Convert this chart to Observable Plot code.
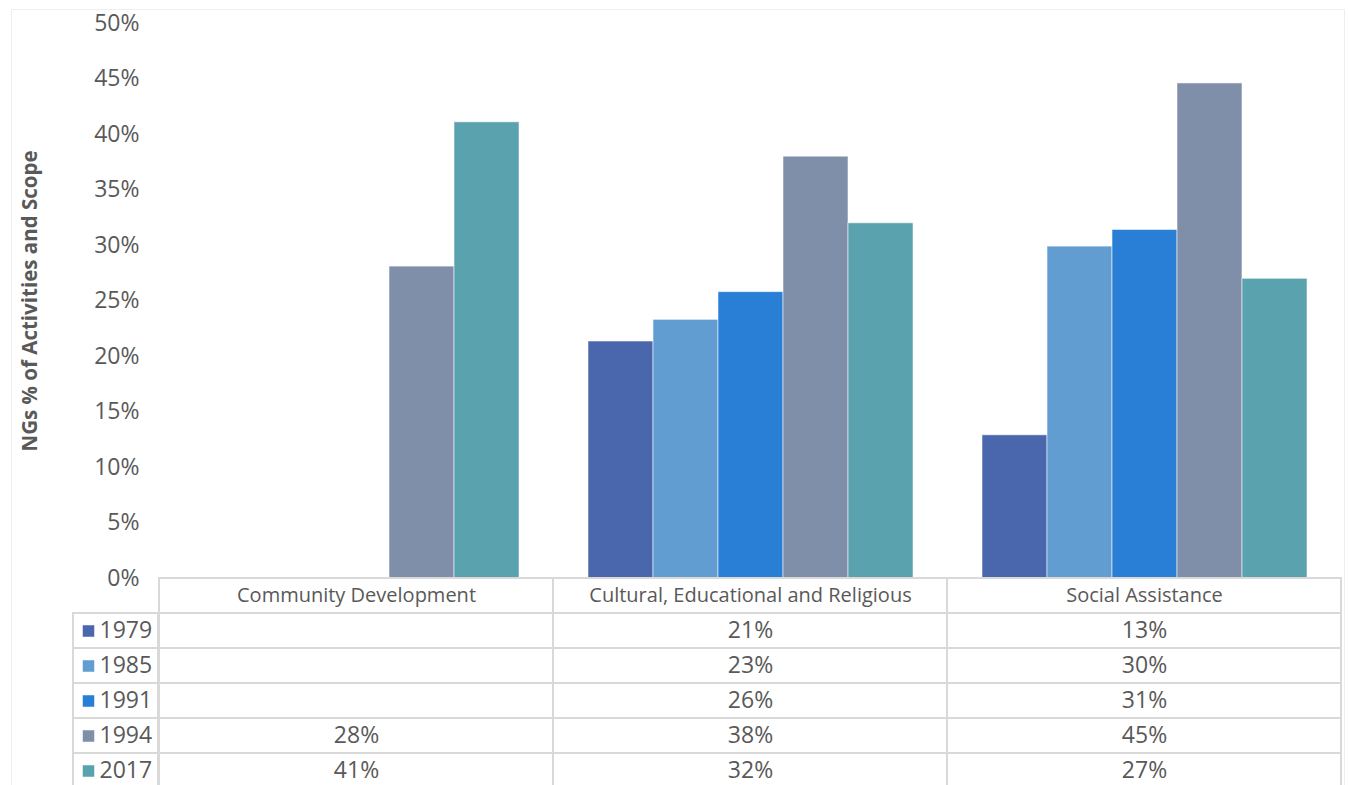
<!DOCTYPE html>
<html><head><meta charset="utf-8">
<script src="https://cdn.jsdelivr.net/npm/d3@7"></script>
<script src="https://cdn.jsdelivr.net/npm/@observablehq/plot@0.6"></script>
<style>
html,body{margin:0;padding:0;background:#fff;overflow:hidden}
#chart{position:relative;width:1348px;height:785px;overflow:hidden;font-family:"Open Sans",sans-serif;background:#fff}
#frame{position:absolute;left:11px;top:9px;width:1332px;height:820px;border:1px solid #eeeeee}
.layer{position:absolute}
.layer svg{overflow:visible}
g[aria-label="y-axis label"]{font-weight:bold;font-size:20.5px}
</style></head><body><div id="chart"><div id="frame"></div></div>
<script>
const categories = ["Community Development", "Cultural, Educational and Religious", "Social Assistance"];
const years = ["1979", "1985", "1991", "1994", "2017"];
const colors = ["#4A66AC", "#629DD1", "#297FD5", "#7F8FA9", "#5AA2AE"];
const v1979 = [null, 0.2135, 0.129];
const v1985 = [null, 0.233, 0.299];
const v1991 = [null, 0.258, 0.314];
const v1994 = [0.281, 0.380, 0.446];
const v2017 = [0.411, 0.320, 0.270];
const yTicks = [0, 0.05, 0.10, 0.15, 0.20, 0.25, 0.30, 0.35, 0.40, 0.45, 0.50];
const yTitle = "NGs % of Activities and Scope";

const series = [v1979, v1985, v1991, v1994, v2017];
const pct = v => Math.round(v * 100) + "%";
const font = "'Open Sans', sans-serif";
const textColor = "#595959";
const lineColor = "#d9d9d9";

const bars = [];
years.forEach((yr, i) => categories.forEach((c, j) => {
  const v = series[i][j];
  if (v != null) bars.push({category: c, year: yr, value: v});
}));

const rows = ["header", ...years];
const cells = [];
categories.forEach(c => cells.push({category: c, row: "header", label: c}));
years.forEach((yr, i) => categories.forEach((c, j) => {
  const v = series[i][j];
  cells.push({category: c, row: yr, label: v == null ? "" : pct(v)});
}));

const chart = document.getElementById("chart");
function place(el, left, top) {
  const d = document.createElement("div");
  d.className = "layer"; d.style.left = left + "px"; d.style.top = top + "px";
  d.appendChild(el); chart.appendChild(d);
}

const plotA = Plot.plot({
  width: 1348, height: 578,
  marginLeft: 158, marginRight: 7, marginTop: 23, marginBottom: 0,
  style: {fontFamily: font, fontSize: "23px", color: textColor, background: "transparent", overflow: "visible"},
  fx: {domain: categories, padding: 0, axis: null},
  x: {domain: years, paddingInner: 0, paddingOuter: 0.5, axis: null},
  y: {domain: [0, 0.5]},
  color: {domain: years, range: colors},
  marks: [
    Plot.axisY({ticks: yTicks, tickFormat: pct, tickSize: 0, tickPadding: 20,
      label: yTitle, labelAnchor: "center", labelOffset: 137, labelArrow: "none"}),
    Plot.barY(bars, {fx: "category", x: "year", y: "value", fill: "year",
      stroke: "#ffffff", strokeOpacity: 0.55, strokeWidth: 1})
  ]
});
place(plotA, 0, 0);

const plotB = Plot.plot({
  width: 1183, height: 207,
  marginLeft: 0, marginRight: 0, marginTop: 0, marginBottom: 0,
  style: {fontFamily: font, fontSize: "23px", color: textColor, background: "transparent", overflow: "visible"},
  x: {domain: categories, padding: 0, axis: null},
  y: {domain: rows, padding: 0, axis: null, range: [0, 210]},
  marks: [
    Plot.cell(cells, {x: "category", y: "row", fill: "#ffffff", stroke: lineColor, strokeWidth: 2}),
    Plot.text(cells, {filter: d => d.row === "header", x: "category", y: "row", text: "label", fill: textColor, fontSize: 20}),
    Plot.text(cells, {filter: d => d.row !== "header", x: "category", y: "row", text: "label", fill: textColor, fontSize: 23})
  ]
});
place(plotB, 158, 578);

const plotC = Plot.plot({
  width: 158, height: 207,
  marginLeft: 73, marginRight: 0, marginTop: 0, marginBottom: 0,
  style: {fontFamily: font, fontSize: "23px", color: textColor, background: "transparent", overflow: "visible"},
  x: {domain: ["key"], padding: 0, axis: null},
  y: {domain: rows, padding: 0, axis: null, range: [0, 210]},
  color: {domain: years, range: colors},
  marks: [
    Plot.cell(years, {x: () => "key", y: d => d, fill: "#ffffff", stroke: lineColor, strokeWidth: 2}),
    Plot.dot(years, {y: d => d, frameAnchor: "left", dx: 15, symbol: "square", r: 6.5, fill: d => d, stroke: null}),
    Plot.text(years, {y: d => d, text: d => d, frameAnchor: "left", dx: 26, textAnchor: "start", fill: textColor})
  ]
});
place(plotC, 0, 578);
</script></body></html>
